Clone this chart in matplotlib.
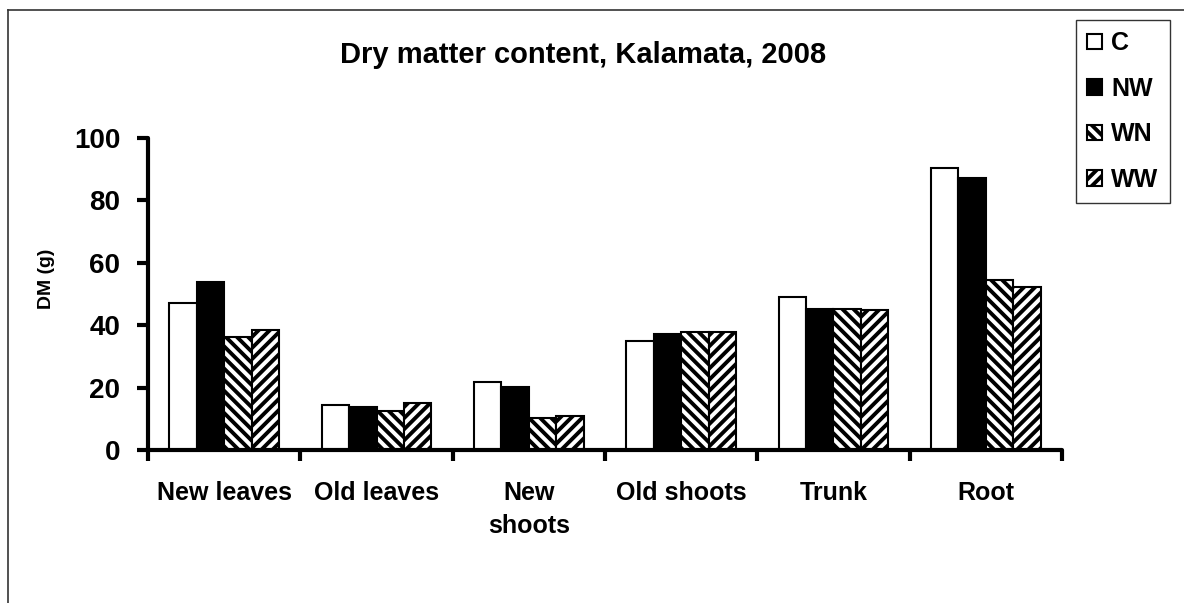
import matplotlib
matplotlib.use("Agg")
import matplotlib.pyplot as plt
from matplotlib.lines import Line2D
import numpy as np

plt.rcParams['font.family'] = ['Liberation Sans', 'DejaVu Sans']
plt.rcParams['font.weight'] = 'bold'
plt.rcParams['hatch.linewidth'] = 2.8

categories = ["New leaves", "Old leaves", "New\nshoots", "Old shoots", "Trunk", "Root"]
series_names = ["C", "NW", "WN", "WW"]
c_vals = [47.1, 14.4, 21.9, 34.9, 49.1, 90.4]
nw_vals = [54.0, 13.9, 20.1, 37.3, 45.3, 87.3]
wn_vals = [36.3, 12.6, 10.3, 37.9, 45.2, 54.6]
ww_vals = [38.4, 15.1, 11.0, 37.9, 44.8, 52.1]

fig = plt.figure(figsize=(11.84, 6.03), dpi=100)
ax = fig.add_axes([148/1184, 1-450/603, (1062-148)/1184, (450-138)/603])

x = np.arange(len(categories))
w = 0.18
styles = [dict(color='white'), dict(color='black'),
          dict(color='white', hatch='\\\\\\'), dict(color='white', hatch='///')]
for i, (vals, name, st) in enumerate(zip([c_vals, nw_vals, wn_vals, ww_vals], series_names, styles)):
    ax.bar(x + (i - 1.5) * w, vals, w, label=name, edgecolor='black', linewidth=1.5, **st)

ax.set_xlim(-0.5, len(categories) - 0.5)
ax.set_ylim(0, 100)
ax.set_yticks([0, 20, 40, 60, 80, 100])
ax.set_xticks(x)
ax.set_xticklabels(categories, fontsize=18, fontweight='bold', linespacing=1.5)
ax.set_xticks(np.arange(-0.5, len(categories)), minor=True)
ax.tick_params(axis='x', which='major', length=0, pad=22)
ax.tick_params(axis='x', which='minor', length=8, width=3, direction='out')
ax.tick_params(axis='y', length=8, width=3, labelsize=20, pad=12)
for lab in ax.get_yticklabels():
    lab.set_fontweight('bold')

for s in ['top', 'right']:
    ax.spines[s].set_visible(False)
for s in ['left', 'bottom']:
    ax.spines[s].set_linewidth(3)
    ax.spines[s].set_capstyle('round')

ax.set_ylabel("DM (g)", fontsize=14, fontweight='bold')
ax.yaxis.set_label_coords(-0.102, 0.55)

fig.text(583/1184, 1-55/603, "Dry matter content, Kalamata, 2008",
         ha='center', va='center', fontsize=21, fontweight='bold')

leg = fig.legend(loc='upper left', bbox_to_anchor=(1076/1184, 1-20/603),
                 prop={'size': 18, 'weight': 'bold'}, fancybox=False, frameon=True,
                 edgecolor='black', handlelength=0.6, handleheight=0.6,
                 handletextpad=0.35, labelspacing=0.86, borderpad=0.45, borderaxespad=0)
leg.get_frame().set_linewidth(1)

# outer chart frame
fig.add_artist(Line2D([8/1184, 8/1184], [0, 1-10/603], color='#333333', lw=1.2))
fig.add_artist(Line2D([8/1184, 1], [1-10/603, 1-10/603], color='#333333', lw=1.2))

fig.savefig("out.png", dpi=100)
